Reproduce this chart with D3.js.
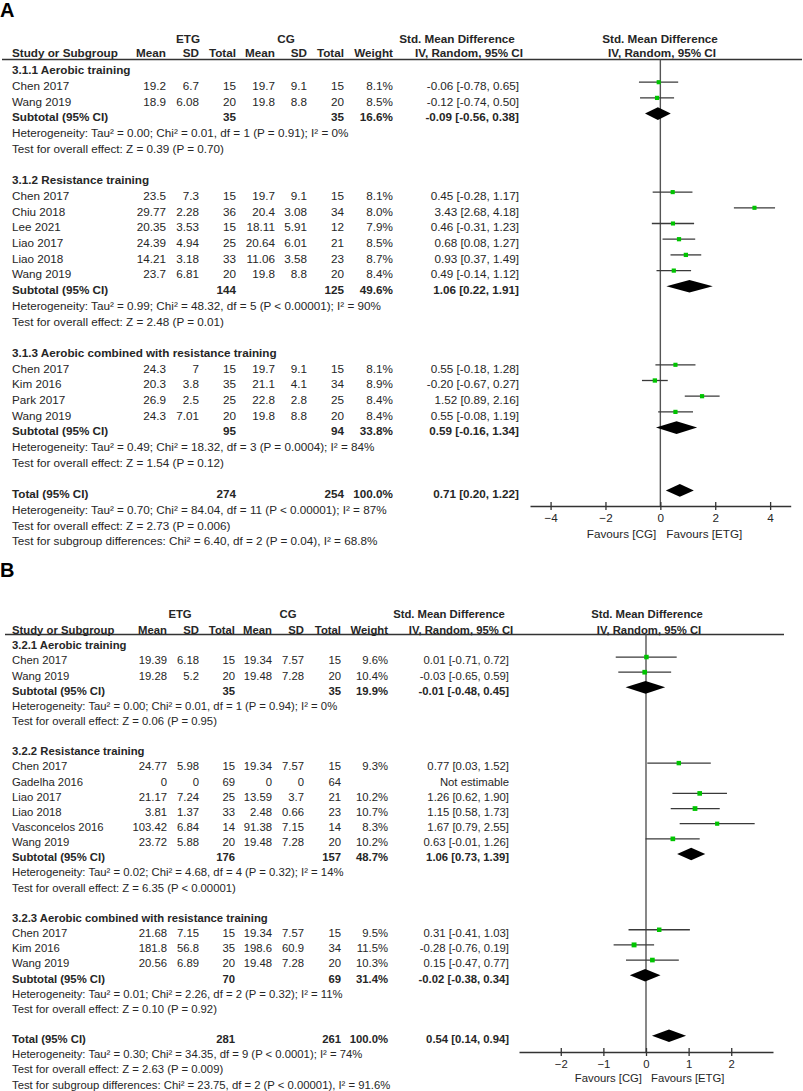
<!DOCTYPE html>
<html><head><meta charset="utf-8">
<script src="https://cdn.jsdelivr.net/npm/d3@7"></script>
<style>
body{margin:0;background:#fff}
svg text{font-family:"Liberation Sans",Arial,sans-serif;fill:#262626}
</style>
</head><body>
<svg id="chart" width="803" height="1091"></svg>
<script>
// ---------------- Panel A data ----------------
const A_subgroups = ["3.1.1 Aerobic training", "3.1.2 Resistance training", "3.1.3 Aerobic combined with resistance training"];
const A_studies  = ["Chen 2017","Wang 2019","Chen 2017","Chiu 2018","Lee 2021","Liao 2017","Liao 2018","Wang 2019","Chen 2017","Kim 2016","Park 2017","Wang 2019"];
const A_group    = [0,0,1,1,1,1,1,1,2,2,2,2];
const A_etgMean  = [19.2,18.9,23.5,29.77,20.35,24.39,14.21,23.7,24.3,20.3,26.9,24.3];
const A_etgSD    = [6.7,6.08,7.3,2.28,3.53,4.94,3.18,6.81,7,3.8,2.5,7.01];
const A_etgN     = [15,20,15,36,15,25,33,20,15,35,25,20];
const A_cgMean   = [19.7,19.8,19.7,20.4,18.11,20.64,11.06,19.8,19.7,21.1,22.8,19.8];
const A_cgSD     = [9.1,8.8,9.1,3.08,5.91,6.01,3.58,8.8,9.1,4.1,2.8,8.8];
const A_cgN      = [15,20,15,34,12,21,23,20,15,34,25,20];
const A_weight   = [8.1,8.5,8.1,8.0,7.9,8.5,8.7,8.4,8.1,8.9,8.4,8.4];
const A_smd      = [-0.06,-0.12,0.45,3.43,0.46,0.68,0.93,0.49,0.55,-0.20,1.52,0.55];
const A_lo       = [-0.78,-0.74,-0.28,2.68,-0.31,0.08,0.37,-0.14,-0.18,-0.67,0.89,-0.08];
const A_hi       = [0.65,0.50,1.17,4.18,1.23,1.27,1.49,1.12,1.28,0.27,2.16,1.19];
const A_subEtgN  = [35,144,95];
const A_subCgN   = [35,125,94];
const A_subW     = [16.6,49.6,33.8];
const A_subSmd   = [-0.09,1.06,0.59];
const A_subLo    = [-0.56,0.22,-0.16];
const A_subHi    = [0.38,1.91,1.34];
const A_subHet   = ["Heterogeneity: Tau² = 0.00; Chi² = 0.01, df = 1 (P = 0.91); I² = 0%",
                    "Heterogeneity: Tau² = 0.99; Chi² = 48.32, df = 5 (P < 0.00001); I² = 90%",
                    "Heterogeneity: Tau² = 0.49; Chi² = 18.32, df = 3 (P = 0.0004); I² = 84%"];
const A_subTest  = ["Test for overall effect: Z = 0.39 (P = 0.70)",
                    "Test for overall effect: Z = 2.48 (P = 0.01)",
                    "Test for overall effect: Z = 1.54 (P = 0.12)"];
const A_total    = {etgN:274, cgN:254, w:100.0, smd:0.71, lo:0.20, hi:1.22};
const A_totalTxt = ["Heterogeneity: Tau² = 0.70; Chi² = 84.04, df = 11 (P < 0.00001); I² = 87%",
                    "Test for overall effect: Z = 2.73 (P = 0.006)",
                    "Test for subgroup differences: Chi² = 6.40, df = 2 (P = 0.04), I² = 68.8%"];
const A_ticks    = [-4,-2,0,2,4];

// ---------------- Panel B data ----------------
const B_subgroups = ["3.2.1 Aerobic training", "3.2.2 Resistance training", "3.2.3 Aerobic combined with resistance training"];
const B_studies  = ["Chen 2017","Wang 2019","Chen 2017","Gadelha 2016","Liao 2017","Liao 2018","Vasconcelos 2016","Wang 2019","Chen 2017","Kim 2016","Wang 2019"];
const B_group    = [0,0,1,1,1,1,1,1,2,2,2];
const B_etgMean  = [19.39,19.28,24.77,0,21.17,3.81,103.42,23.72,21.68,181.8,20.56];
const B_etgSD    = [6.18,5.2,5.98,0,7.24,1.37,6.84,5.88,7.15,56.8,6.89];
const B_etgN     = [15,20,15,69,25,33,14,20,15,35,20];
const B_cgMean   = [19.34,19.48,19.34,0,13.59,2.48,91.38,19.48,19.34,198.6,19.48];
const B_cgSD     = [7.57,7.28,7.57,0,3.7,0.66,7.15,7.28,7.57,60.9,7.28];
const B_cgN      = [15,20,15,64,21,23,14,20,15,34,20];
const B_weight   = [9.6,10.4,9.3,null,10.2,10.7,8.3,10.2,9.5,11.5,10.3];
const B_smd      = [0.01,-0.03,0.77,null,1.26,1.15,1.67,0.63,0.31,-0.28,0.15];
const B_lo       = [-0.71,-0.65,0.03,null,0.62,0.58,0.79,-0.01,-0.41,-0.76,-0.47];
const B_hi       = [0.72,0.59,1.52,null,1.90,1.73,2.55,1.26,1.03,0.19,0.77];
const B_subEtgN  = [35,176,70];
const B_subCgN   = [35,157,69];
const B_subW     = [19.9,48.7,31.4];
const B_subSmd   = [-0.01,1.06,-0.02];
const B_subLo    = [-0.48,0.73,-0.38];
const B_subHi    = [0.45,1.39,0.34];
const B_subHet   = ["Heterogeneity: Tau² = 0.00; Chi² = 0.01, df = 1 (P = 0.94); I² = 0%",
                    "Heterogeneity: Tau² = 0.02; Chi² = 4.68, df = 4 (P = 0.32); I² = 14%",
                    "Heterogeneity: Tau² = 0.01; Chi² = 2.26, df = 2 (P = 0.32); I² = 11%"];
const B_subTest  = ["Test for overall effect: Z = 0.06 (P = 0.95)",
                    "Test for overall effect: Z = 6.35 (P < 0.00001)",
                    "Test for overall effect: Z = 0.10 (P = 0.92)"];
const B_total    = {etgN:281, cgN:261, w:100.0, smd:0.54, lo:0.14, hi:0.94};
const B_totalTxt = ["Heterogeneity: Tau² = 0.30; Chi² = 34.35, df = 9 (P < 0.0001); I² = 74%",
                    "Test for overall effect: Z = 2.63 (P = 0.009)",
                    "Test for subgroup differences: Chi² = 23.75, df = 2 (P < 0.00001), I² = 91.6%"];
const B_ticks    = [-2,-1,0,1,2];

const headerCols = ["Mean","SD","Total","Mean","SD","Total","Weight"];
const favours = ["Favours [CG]","Favours [ETG]"];

// ---------------- drawing ----------------
const svg = d3.select("#chart");
const GREEN = "#00c400", LINE = "#3a3a3a";

function fmt2(v){ return v.toFixed(2); }
function ci(s,l,h){ return fmt2(s)+" ["+fmt2(l)+", "+fmt2(h)+"]"; }

function buildRows(P){
  const rows=[];
  P.subgroups.forEach((name,g)=>{
    rows.push({type:"heading", text:name});
    P.studies.forEach((s,i)=>{ if(P.group[i]===g) rows.push({type:"study", i}); });
    rows.push({type:"subtotal", g});
    rows.push({type:"note", text:P.subHet[g]});
    rows.push({type:"note", text:P.subTest[g]});
    rows.push({type:"blank"});
  });
  rows.push({type:"total"});
  P.totalTxt.forEach(t=>rows.push({type:"note", text:t}));
  return rows;
}

function drawPanel(P, L){
  const g = svg.append("g");
  if (L.clipY){
    const id="clip"+L.label;
    svg.append("clipPath").attr("id",id).append("rect").attr("x",0).attr("y",0).attr("width",803).attr("height",L.clipY);
    g.attr("clip-path","url(#"+id+")");
  }
  const fs = L.fs;
  const T = (x,y,s,anchor,bold)=> g.append("text").attr("x",x).attr("y",y)
      .attr("text-anchor",anchor||"start").attr("font-size",fs)
      .attr("font-weight",bold?"bold":"normal").text(s);

  // panel label
  svg.append("text").attr("x",0).attr("y",L.labelY).attr("font-size",20).attr("font-weight","bold")
     .style("font-family","Liberation Sans, Arial, sans-serif").style("fill","#000").text(L.label);

  // headers
  T(L.grpC[0], L.hdr1, "ETG", "middle", true);
  T(L.grpC[1], L.hdr1, "CG", "middle", true);
  T(L.smdC[0], L.hdr1, "Std. Mean Difference", "middle", true);
  T(L.plotHdrC, L.hdr1, "Std. Mean Difference", "middle", true);
  T(L.studyX, L.hdr2, "Study or Subgroup", "start", true);
  headerCols.forEach((h,k)=> T(L.cols[k], L.hdr2, h, "end", true));
  T(L.smdC[1], L.hdr2, "IV, Random, 95% CI", "middle", true);
  T(L.plotHdrC+2, L.hdr2, "IV, Random, 95% CI", "middle", true);
  g.append("line").attr("x1",L.lineX[0]).attr("x2",L.lineX[1]).attr("y1",L.lineY).attr("y2",L.lineY)
    .attr("stroke","#333").attr("stroke-width",1.6);

  const x = d3.scaleLinear().domain(L.axisDomain).range(L.axisRange);
  const rows = buildRows(P);
  const yb = k => L.row0 + k*L.step;        // text baseline
  const ym = k => yb(k) - L.markOff;         // mark centre

  // zero line
  g.append("line").attr("x1",x(0)).attr("x2",x(0)).attr("y1",L.lineY).attr("y2",L.axisY)
    .attr("stroke","#555").attr("stroke-width",1.4);

  const diamond = (k,s,l,h)=>{
    const yc=ym(k), hh=L.dH;
    g.append("path").attr("d",`M${x(l)},${yc} L${x(s)},${yc-hh} L${x(h)},${yc} L${x(s)},${yc+hh} Z`).attr("fill","#000");
  };

  rows.forEach((r,k)=>{
    const y=yb(k);
    if(r.type==="heading") T(L.studyX,y,r.text,"start",true);
    else if(r.type==="note") T(L.studyX,y,r.text,"start",false);
    else if(r.type==="study"){
      const i=r.i;
      T(L.studyX,y,P.studies[i]);
      [P.etgMean[i],P.etgSD[i],P.etgN[i],P.cgMean[i],P.cgSD[i],P.cgN[i]].forEach((v,c)=>T(L.cols[c],y,String(v),"end"));
      if(P.weight[i]!=null){
        T(L.cols[6],y,P.weight[i].toFixed(1)+"%","end");
        T(L.effR,y,ci(P.smd[i],P.lo[i],P.hi[i]),"end");
        g.append("line").attr("x1",x(P.lo[i])).attr("x2",x(P.hi[i])).attr("y1",ym(k)).attr("y2",ym(k))
          .attr("stroke",LINE).attr("stroke-width",1.3);
        const sz=1.45*Math.sqrt(P.weight[i]);
        g.append("rect").attr("x",x(P.smd[i])-sz/2).attr("y",ym(k)-sz/2).attr("width",sz).attr("height",sz).attr("fill",GREEN);
      } else {
        T(L.effR,y,"Not estimable","end");
      }
    } else if(r.type==="subtotal"){
      const s=r.g;
      T(L.studyX,y,"Subtotal (95% CI)","start",true);
      T(L.cols[2],y,String(P.subEtgN[s]),"end",true);
      T(L.cols[5],y,String(P.subCgN[s]),"end",true);
      T(L.cols[6],y,P.subW[s].toFixed(1)+"%","end",true);
      T(L.effR,y,ci(P.subSmd[s],P.subLo[s],P.subHi[s]),"end",true);
      diamond(k,P.subSmd[s],P.subLo[s],P.subHi[s]);
    } else if(r.type==="total"){
      const t=P.total;
      T(L.studyX,y,"Total (95% CI)","start",true);
      T(L.cols[2],y,String(t.etgN),"end",true);
      T(L.cols[5],y,String(t.cgN),"end",true);
      T(L.cols[6],y,t.w.toFixed(1)+"%","end",true);
      T(L.effR,y,ci(t.smd,t.lo,t.hi),"end",true);
      diamond(k,t.smd,t.lo,t.hi);
    }
  });

  // axis
  const ax = g.append("g").attr("transform",`translate(0,${L.axisY})`)
    .call(d3.axisBottom(x).tickValues(P.ticks).tickSizeInner(4).tickSizeOuter(0).tickPadding(L.tickPad).tickFormat(d3.format("d")));
  ax.select(".domain").attr("stroke","#333").attr("stroke-width",1.6);
  ax.selectAll(".tick line").attr("y1",-4).attr("y2",4).attr("stroke","#333").attr("stroke-width",1.3);
  ax.selectAll(".tick text").attr("font-size",fs).attr("font-family","Liberation Sans, Arial, sans-serif").attr("fill","#262626");
  T(x(0)-L.favGap[0], L.favY, favours[0], "end");
  T(x(0)+L.favGap[1], L.favY, favours[1], "start");
}

const PA = {subgroups:A_subgroups, studies:A_studies, group:A_group, etgMean:A_etgMean, etgSD:A_etgSD, etgN:A_etgN,
  cgMean:A_cgMean, cgSD:A_cgSD, cgN:A_cgN, weight:A_weight, smd:A_smd, lo:A_lo, hi:A_hi,
  subEtgN:A_subEtgN, subCgN:A_subCgN, subW:A_subW, subSmd:A_subSmd, subLo:A_subLo, subHi:A_subHi,
  subHet:A_subHet, subTest:A_subTest, total:A_total, totalTxt:A_totalTxt, ticks:A_ticks};
const PB = {subgroups:B_subgroups, studies:B_studies, group:B_group, etgMean:B_etgMean, etgSD:B_etgSD, etgN:B_etgN,
  cgMean:B_cgMean, cgSD:B_cgSD, cgN:B_cgN, weight:B_weight, smd:B_smd, lo:B_lo, hi:B_hi,
  subEtgN:B_subEtgN, subCgN:B_subCgN, subW:B_subW, subSmd:B_subSmd, subLo:B_subLo, subHi:B_subHi,
  subHet:B_subHet, subTest:B_subTest, total:B_total, totalTxt:B_totalTxt, ticks:B_ticks};

drawPanel(PA, {label:"A", labelY:17, fs:11.7, hdr1:43, hdr2:57.3, lineY:59.5, lineX:[2,802],
  studyX:12, cols:[166,199,236,275,307,344,393], grpC:[188,286], smdC:[457,469], effR:519, plotHdrC:660,
  row0:74.3, step:15.7, markOff:7.8, dH:6.3,
  axisDomain:[-4.75,4.75], axisRange:[530,790.7], axisY:506, tickPad:4, favY:537.5, favGap:[4,6], clipY:547});
drawPanel(PB, {label:"B", labelY:577, fs:11.3, hdr1:618, hdr2:633.5, lineY:634.5, lineX:[5,784],
  studyX:12, cols:[167,199,235,272,304,341,388], grpC:[180,288], smdC:[449,461], effR:509, plotHdrC:647,
  row0:649.2, step:15.15, markOff:7.3, dH:6.3,
  axisDomain:[-2.98,2.98], axisRange:[519,773], axisY:1052, tickPad:4, favY:1082, favGap:[4,5]});
</script>
</body></html>
